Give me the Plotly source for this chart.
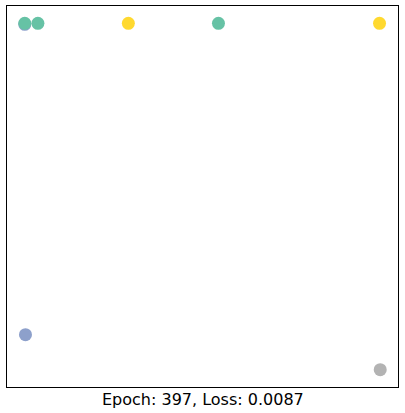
import plotly.graph_objects as go

# node embeddings (2D) and their class labels
node_x = [0.000, 0.000, 0.037, 0.292, 0.546, 1.000, 0.002, 1.002]
node_y = [0.997, 1.000, 1.000, 1.000, 1.000, 1.000, 0.101, 0.000]
node_class = [2, 0, 0, 1, 0, 1, 2, 3]
class_colors = ["#66c2a5", "#ffd92f", "#8da0cb", "#b3b3b3"]
epoch = 397
loss = 0.0087

colors = [class_colors[c] for c in node_class]

fig = go.Figure()
fig.add_trace(go.Scatter(
    x=node_x, y=node_y, mode="markers",
    marker=dict(size=13, color=colors, line=dict(width=0)),
    hoverinfo="skip", showlegend=False,
))

def padded(vals, frac=0.05):
    lo, hi = min(vals), max(vals)
    d = (hi - lo) * frac
    return [lo - d, hi + d]

axis_common = dict(showgrid=False, zeroline=False, showticklabels=False, ticks="",
                   showline=True, linecolor="#000000", linewidth=1, mirror=True)
fig.update_xaxes(range=padded(node_x), **axis_common)
fig.update_yaxes(range=padded(node_y), **axis_common)

fig.add_annotation(
    text=f"Epoch: {epoch}, Loss: {loss:.4f}",
    xref="paper", yref="paper", x=0.5, y=0, yanchor="top", xanchor="center",
    yshift=-1, showarrow=False,
    font=dict(family="DejaVu Sans", size=16, color="#000000"),
)

fig.update_layout(
    width=405, height=413,
    margin=dict(l=7, r=7, t=6, b=26),
    paper_bgcolor="white", plot_bgcolor="white",
)

fig.write_html("out.html")
